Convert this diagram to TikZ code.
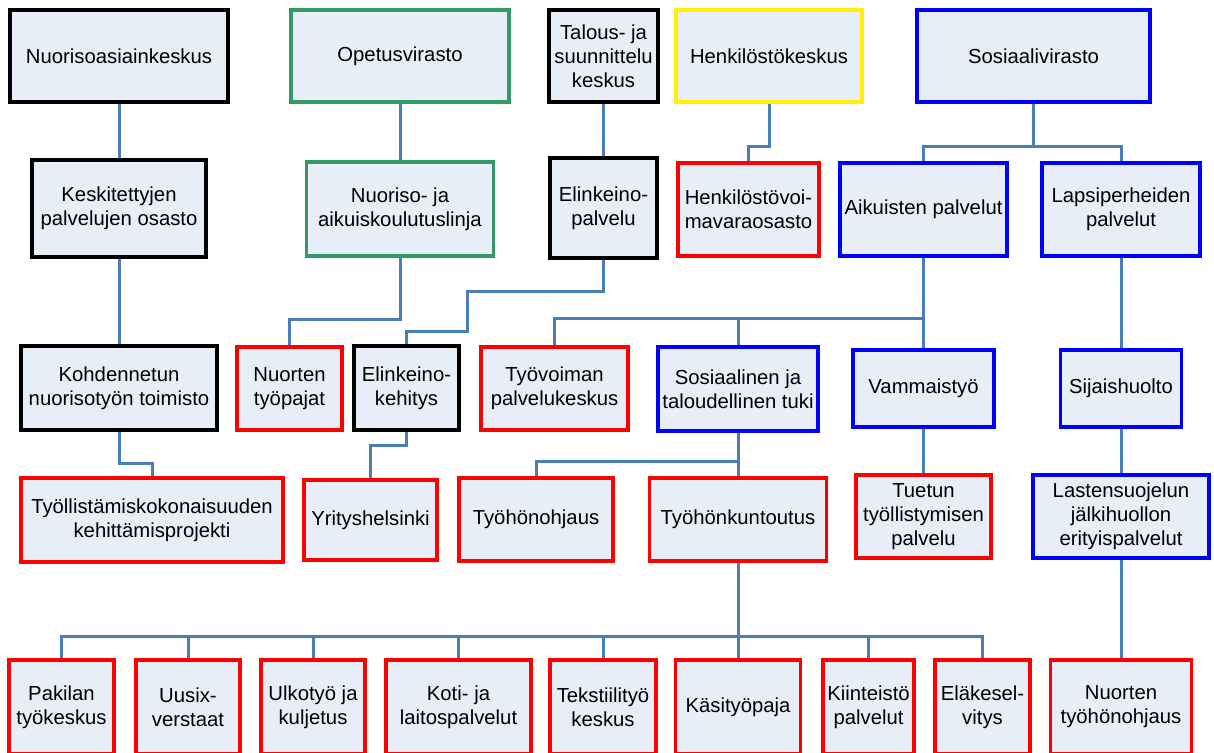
\documentclass[tikz,border=0pt]{standalone}
\usepackage{fontspec}
\setmainfont{Liberation Sans}
\definecolor{boxfill}{RGB}{232,238,247}
\definecolor{linkblue}{RGB}{74,126,187}
\definecolor{okgreen}{RGB}{51,153,102}

\begin{document}
\begin{tikzpicture}[x=1pt, y=-1pt,
  orgbox/.style={draw, line width=3.5pt, fill=boxfill, align=center, inner sep=0pt,
    font=\fontsize{20.3}{24}\selectfont},
  sz/.style 2 args={minimum width=#1pt, minimum height=#2pt},
  boxblack/.style={orgbox, draw=black},
  boxgreen/.style={orgbox, draw=okgreen},
  boxyellow/.style={orgbox, draw=yellow},
  boxblue/.style={orgbox, draw=blue},
  boxred/.style={orgbox, draw=red},
  link/.style={draw=linkblue, line width=3pt}]
  \useasboundingbox (0,0) rectangle (1214,752);
  \clip (0,0) rectangle (1214,752);

  % Row 1
  \node[boxblack, sz={218}{92}] (nak) at (119,56) {Nuorisoasiainkeskus};
  \node[boxgreen, sz={218}{92}] (opv) at (400,56) {Opetusvirasto};
  \node[boxblack, sz={109}{92}] (tsk) at (603.5,56) {Talous- ja\\suunnittelu\\keskus};
  \node[boxyellow, sz={186}{92}] (hkk) at (769,56) {Henkilöstökeskus};
  \node[boxblue, sz={233}{92}] (sov) at (1033.5,56) {Sosiaalivirasto};

  % Row 2
  \node[boxblack, sz={174}{97}] (kpo) at (119,208.5) {Keskitettyjen\\palvelujen osasto};
  \node[boxgreen, sz={187}{94}] (nakl) at (400,209) {Nuoriso- ja\\aikuiskoulutuslinja};
  \node[boxblack, sz={107}{100}] (elp) at (603.5,208) {Elinkeino-\\palvelu};
  \node[boxred, sz={141}{93}] (hvo) at (748.5,209.5) {Henkilöstövoi-\\mavaraosasto};
  \node[boxblue, sz={167}{93}] (aip) at (923.5,209.5) {Aikuisten palvelut};
  \node[boxblue, sz={158}{93}] (lpp) at (1121,209.5) {Lapsiperheiden\\palvelut};

  % Row 3
  \node[boxblack, sz={196}{84}] (knt) at (119,388) {Kohdennetun\\nuorisotyön toimisto};
  \node[boxred, sz={105}{83}] (ntp) at (289.5,388.5) {Nuorten\\työpajat};
  \node[boxblack, sz={105}{84}] (ekh) at (406.5,388) {Elinkeino-\\kehitys};
  \node[boxred, sz={147}{83}] (tvk) at (554.5,388.5) {Työvoiman\\palvelukeskus};
  \node[boxblue, sz={160}{84}] (stt) at (738,389) {Sosiaalinen ja\\taloudellinen tuki};
  \node[boxblue, sz={141}{77}] (vmt) at (923.5,388.5) {Vammaistyö};
  \node[boxblue, sz={121}{77}] (sjh) at (1121,388.5) {Sijaishuolto};

  % Row 4
  \node[boxred, sz={262}{84}] (tkp) at (152,520) {Työllistämiskokonaisuuden\\kehittämisprojekti};
  \node[boxred, sz={133}{80}] (yhk) at (370.5,520) {Yrityshelsinki};
  \node[boxred, sz={154}{83}] (tho) at (536,519.5) {Työhönohjaus};
  \node[boxred, sz={177}{83}] (thk) at (738,519.5) {Työhönkuntoutus};
  \node[boxred, sz={135}{83}] (ttp) at (923.5,516.5) {Tuetun\\työllistymisen\\palvelu};
  \node[boxblue, sz={176}{83}] (lje) at (1121,516.5) {Lastensuojelun\\jälkihuollon\\erityispalvelut};

  % Row 5
  \node[boxred, sz={105}{94}] (pak) at (61.5,707) {Pakilan\\työkeskus};
  \node[boxred, sz={104}{94}] (uus) at (188,707) {Uusix-\\verstaat};
  \node[boxred, sz={104}{94}] (ulk) at (313,707) {Ulkotyö ja\\kuljetus};
  \node[boxred, sz={145}{94}] (kot) at (458.5,707) {Koti- ja\\laitospalvelut};
  \node[boxred, sz={106}{94}] (tek) at (603,707) {Tekstiilityö\\keskus};
  \node[boxred, sz={125}{94}] (kas) at (738,707) {Käsityöpaja};
  \node[boxred, sz={91}{94}] (kii) at (868.5,707) {Kiinteistö\\palvelut};
  \node[boxred, sz={95}{94}] (ela) at (982.5,707) {Eläkesel-\\vitys};
  \node[boxred, sz={141}{94}] (nth) at (1121,707) {Nuorten\\työhönohjaus};

  % Links
  \draw[link] (nak.south) -- (kpo.north);
  \draw[link] (kpo.south) -- (knt.north);
  \draw[link] (knt.south) -- ++(0,32) -| (tkp.north);
  \draw[link] (opv.south) -- (nakl.north);
  \draw[link] (nakl.south) -- ++(0,62) -| (ntp.north);
  \draw[link] (tsk.south) -- (elp.north);
  \draw[link] (elp.south) -- ++(0,32) -| ++(-136,40) -| (ekh.north);
  \draw[link] (ekh.south) -- ++(0,14) -| (yhk.north);
  \draw[link] (hkk.south) -- ++(0,43) -| (hvo.north);
  \draw[link] (sov.south) -- ++(0,43) -| (aip.north);
  \draw[link] (sov.south) -- ++(0,43) -| (lpp.north);
  \draw[link] (aip.south) -- (vmt.north);
  \draw[link] (aip.south) -- ++(0,61) -| (tvk.north);
  \draw[link] (aip.south) -- ++(0,61) -| (stt.north);
  \draw[link] (lpp.south) -- (sjh.north);
  \draw[link] (stt.south) -- ++(0,29) -| (tho.north);
  \draw[link] (stt.south) -- (thk.north);
  \draw[link] (vmt.south) -- (ttp.north);
  \draw[link] (sjh.south) -- (lje.north);
  \draw[link] (lje.south) -- (nth.north);
  \foreach \n in {pak,uus,ulk,kot,tek,kas,kii,ela}
    \draw[link] (thk.south) -- ++(0,74) -| (\n.north);
\end{tikzpicture}
\end{document}
